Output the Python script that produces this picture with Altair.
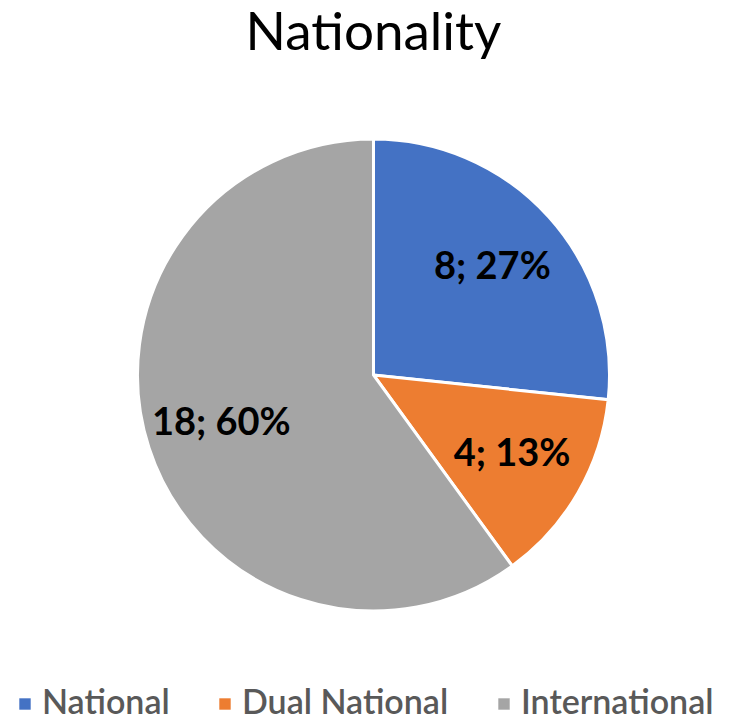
import altair as alt
import pandas as pd

categories = ["National", "Dual National", "International"]
counts = [8, 4, 18]
percents = ["27%", "13%", "60%"]
colors = ["#4472C4", "#ED7D31", "#A5A5A5"]

df = pd.DataFrame({
    "category": categories,
    "count": counts,
    "label": [f"{c}; {p}" for c, p in zip(counts, percents)],
    "order": list(range(len(categories))),
})

base = alt.Chart(df).encode(
    theta=alt.Theta("count:Q", stack=True),
    order=alt.Order("order:Q"),
)

arcs = base.mark_arc(outerRadius=236, stroke="white", strokeWidth=3).encode(
    color=alt.Color(
        "category:N",
        sort=categories,
        scale=alt.Scale(domain=categories, range=colors),
        legend=alt.Legend(
            title=None,
            orient="bottom",
            direction="horizontal",
            symbolType="square",
            symbolSize=130,
            symbolStrokeWidth=0,
            labelFont="Lato",
            labelFontSize=34,
            labelFontWeight=600,
            labelColor="#595959",
            labelOffset=0,
            columnPadding=38,
            labelLimit=400,
            offset=76,
        ),
    )
)

labels = base.mark_text(
    radius=160, font="Lato", fontSize=38, fontWeight="bold", color="black"
).encode(text="label:N")

chart = (arcs + labels).properties(
    width=731,
    height=472,
    padding=0,
    title=alt.TitleParams(
        "Nationality", font="Lato", fontSize=53, fontWeight="normal",
        color="black", offset=72, anchor="middle",
    ),
).configure_view(stroke=None)

chart.save("out.html", embed_options={"renderer": "svg", "actions": False})
